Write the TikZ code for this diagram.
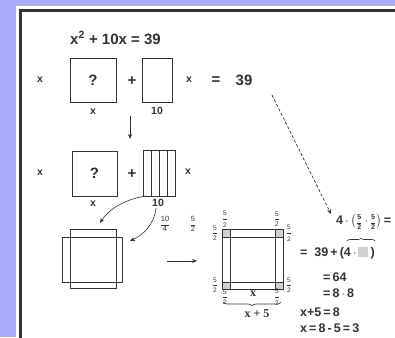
\documentclass[tikz,border=0pt]{standalone}
\usepackage{amsmath}
\usepackage{fontspec}
\setmainfont{Liberation Sans}
\newfontfamily\seriffont{Liberation Serif}
\usetikzlibrary{arrows.meta,decorations.pathreplacing}
\definecolor{lavender}{HTML}{AAAAFA}
\definecolor{ink}{HTML}{333333}
\definecolor{cornergray}{HTML}{D0D0D0}
\newcommand{\tfr}[2]{$\genfrac{}{}{0.4pt}{0}{\text{#1}}{\text{#2}}$}
\newcommand{\bfr}[2]{$\genfrac{}{}{1pt}{0}{\text{#1}}{\text{#2}}$}
\newcommand{\sfr}[2]{{\fontsize{7}{8}\selectfont\tfr{#1}{#2}}}

\begin{document}
\begin{tikzpicture}[x=1pt, y=-1pt,
    box/.style={draw=ink, line width=0.8pt, inner sep=0pt},
    lbl/.style={font=\bfseries\fontsize{10.5}{12}\selectfont, text=ink},
    big/.style={font=\bfseries\fontsize{15}{17}\selectfont, text=ink},
    eqline/.style={font=\bfseries\fontsize{12.5}{14}\selectfont, text=ink, anchor=west, inner sep=0pt},
    cfrac/.style={font=\fontsize{6.5}{7}\selectfont, text=ink, inner sep=0pt},
    arr/.style={-{Stealth[length=5pt,width=4pt]}, line width=0.6pt, draw=ink}]
    \useasboundingbox (0,0) rectangle (395,337);
    % frame
    \fill[lavender] (0,0) rectangle (395,337);
    \fill[white] (16,6) rectangle (400,345);
    \draw[ink, line width=3pt] (20,10.5) rectangle (420,360);

    % equation
    \node[big, anchor=west, inner sep=0pt] (title) at (70,38) {x\textsuperscript{2} + 10x = 39};

    % first row
    \node[lbl] (xa) at (40,80) {x};
    \node[box, minimum width=46pt, minimum height=44pt, big] (sqa) at (93,80) {?};
    \node[big] (plusa) at (132,81) {+};
    \node[box, minimum width=30pt, minimum height=44pt] (rca) at (157,80) {};
    \node[lbl] (xb) at (189,80) {x};
    \node[big] (eqa) at (216,81) {=};
    \node[big] (rhs) at (244,80) {39};
    \node[lbl] (xc) at (93,112) {x};
    \node[lbl] (tena) at (157,111) {10};

    \coordinate (downs) at (130,116);
    \coordinate (downe) at (130,139);
    \draw[arr] (downs) -- (downe);

    % second row
    \node[lbl] (xd) at (40,173) {x};
    \node[box, minimum width=45pt, minimum height=45pt, big] (sqb) at (94.5,173.5) {?};
    \node[big] (plusb) at (132,174) {+};
    \node[box, minimum width=32pt, minimum height=46pt] (rcb) at (159,173) {};
    \foreach \xx in {151,159,167}
        \draw[ink, line width=0.8pt] (\xx,150) -- (\xx,196);
    \node[lbl] (xe) at (188,172) {x};
    \node[lbl] (xf) at (93,204) {x};
    \node[lbl] (tenb) at (158,203) {10};

    \node[cfrac, font=\fontsize{7.5}{8}\selectfont] (fra) at (165,224) {\tfr{10}{4}};
    \node[cfrac, font=\fontsize{7.5}{8}\selectfont] (frb) at (193,224) {\tfr{5}{2}};

    \coordinate (cua) at (146,196);
    \coordinate (cub) at (100,223);
    \draw[arr] (cua) .. controls (125,199) and (108,210) .. (cub);
    \coordinate (cuc) at (156,208);
    \coordinate (cud) at (130,241);
    \draw[arr] (cuc) .. controls (154,225) and (143,235) .. (cud);

    % split squares
    \draw[ink, line width=0.8pt] (70,229) rectangle (116,288);
    \draw[ink, line width=0.8pt] (62,237) rectangle (122,282);

    \coordinate (rts) at (167,261);
    \coordinate (rte) at (197,261);
    \draw[arr] (rts) -- (rte);

    % completed square
    \fill[cornergray] (222,229) rectangle (230,237);
    \fill[cornergray] (275,229) rectangle (283,237);
    \fill[cornergray] (222,282) rectangle (230,289);
    \fill[cornergray] (275,282) rectangle (283,289);
    \draw[ink, line width=0.8pt] (222,229) rectangle (283,289);
    \draw[ink, line width=0.8pt] (230,237) rectangle (275,282);
    \draw[ink, line width=0.6pt] (230,229) -- (230,237) (275,229) -- (275,237)
        (230,282) -- (230,289) (275,282) -- (275,289)
        (222,237) -- (230,237) (275,237) -- (283,237)
        (222,282) -- (230,282) (275,282) -- (283,282);

    \node[cfrac] (fc1) at (225,219) {\bfr{5}{2}};
    \node[cfrac] (fc2) at (277,219) {\tfr{5}{2}};
    \node[cfrac] (fc3) at (215,233) {\tfr{5}{2}};
    \node[cfrac] (fc4) at (289,233) {\bfr{5}{2}};
    \node[cfrac] (fc5) at (215,285) {\tfr{5}{2}};
    \node[cfrac] (fc6) at (289,285) {\tfr{5}{2}};
    \node[cfrac] (fc7) at (225,297) {\tfr{5}{2}};
    \node[cfrac] (fc8) at (277,297) {\bfr{5}{2}};
    \node[font=\seriffont\bfseries\fontsize{12}{14}\selectfont, text=ink, inner sep=0pt] (xg) at (253,294) {x};
    \coordinate (bra) at (223,302);
    \coordinate (brb) at (281,302);
    \draw[ink, line width=0.6pt, decorate, decoration={brace, mirror, amplitude=4pt}] (bra) -- (brb);
    \node[font=\seriffont\bfseries\fontsize{12}{14}\selectfont, text=ink, inner sep=0pt] (xh) at (257,314) {x + 5};

    % working on the right
    \node[eqline] (ea) at (336,222) {4\,$\cdot$\,\big(\sfr{5}{2}\,$\cdot$\,\sfr{5}{2}\big)\,=};
    \coordinate (obs) at (347,241);
    \coordinate (obe) at (375,241);
    \draw[ink, line width=0.6pt, decorate, decoration={brace, amplitude=3pt}] (obs) -- (obe);
    \node[eqline] (eb) at (300,253) {=\ \ 39\,+\,(4\,$\cdot$\,\textcolor{cornergray}{\rule[-1pt]{10pt}{10pt}}\,)};
    \node[eqline] (ec) at (323,277) {=\,64};
    \node[eqline] (ed) at (323,293) {=\,8\,$\cdot$\,8};
    \node[eqline] (ee) at (300,312) {x+5\,=\,8};
    \node[eqline] (ef) at (300,328) {x\,=\,8\,-\,5\,=\,3};

    \coordinate (dsa) at (272,95);
    \coordinate (dsb) at (331,214);
    \draw[arr, line width=0.7pt, dash pattern=on 3pt off 2pt] (dsa) -- (dsb);
\end{tikzpicture}
\end{document}
